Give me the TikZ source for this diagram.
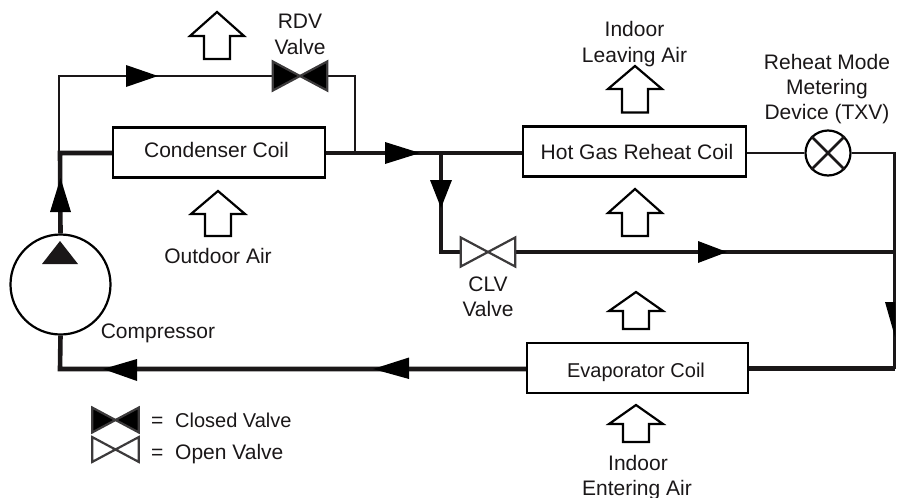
\documentclass[tikz,border=0pt]{standalone}
\usepackage{fontspec}
\setmainfont{Liberation Sans}
\definecolor{ink}{HTML}{1A1718}
\tikzset{
  thinline/.style={draw=ink,line width=2.5pt,line join=miter},
  thickline/.style={draw=ink,line width=4.6pt,line join=miter},
  midline/.style={draw=ink,line width=3.4pt,line join=miter},
  coil/.style={draw=black,line width=2.4pt,fill=white,inner sep=0pt,text=ink},
  lbl/.style={anchor=base,inner sep=0pt,text=ink,font=\fontsize{21}{21}\selectfont},
  lblnarrow/.style={lbl,font=\fontsize{20}{20}\selectfont},
  lbll/.style={lbl,anchor=base west},
  lbllnarrow/.style={lblnarrow,anchor=base west},
  valvebox/.style={inner sep=0pt,minimum width=#1,minimum height=#1*0.53},
  head/.style={fill=black},
  blockarrow/.style={draw=black,line width=2.2pt,fill=white,line join=miter},
  disc/.style={circle,draw=black,line width=2.2pt,fill=white,inner sep=0pt},
}
\newcommand{\drawvalve}[2]{\draw[draw=ink!85,line width=2.2pt,fill=#1,line join=miter]
  (#2.north west) -- (#2.south east) -- (#2.north east) -- (#2.south west) -- cycle;}
\newcommand{\airarrow}[5]{\draw[blockarrow] (#1,#2) -- (#1+#5,#3) -- (#1+13,#3) -- (#1+13,#4) -- (#1-13,#4) -- (#1-13,#3) -- (#1-#5,#3) -- cycle;}
\begin{document}
\begin{tikzpicture}[x=1pt,y=-1pt]
\useasboundingbox (0,0) rectangle (897,498);
% components
\node[coil,minimum width=212pt,minimum height=50pt] (cond) at (219,152.5) {};
\node[coil,minimum width=223pt,minimum height=50pt] (reheat) at (634.5,151.5) {};
\node[coil,minimum width=221pt,minimum height=50pt] (evap) at (637.5,368) {};
\node[disc,minimum size=100pt] (comp) at (60.5,284.5) {};
\node[disc,minimum size=45pt] (txv) at (828,153) {};
\node[valvebox=54pt] (rdv) at (300,76) {};
\node[valvebox=54pt] (clv) at (488,252) {};
\node[valvebox=46pt] (closedkey) at (115.5,420) {};
\node[valvebox=46pt] (openkey) at (115.5,449.5) {};
% junctions
\coordinate (jl) at (60,153);
\coordinate (jtl) at (59,76);
\coordinate (jtr) at (355,76);
\coordinate (jr) at (355,153);
\coordinate (jb) at (441,153);
\coordinate (jbc) at (441,252);
\coordinate (jcr) at (894.5,252);
\coordinate (jtxv) at (894.5,153);
\coordinate (jev) at (894.5,368.5);
\coordinate (jcb) at (60,369);
% thin connectors
\draw[thinline] (jl -| jtl) -- (jtl) -- (rdv.west);
\draw[thinline] (rdv.east) -- (jtr) -- (jr);
\draw[thinline] (reheat.east |- txv) -- (txv.west);
\draw[thinline] (txv.east) -- (jtxv) -- (jcr);
% thick connectors
\draw[thickline] (cond.west |- jl) -- (jl) -- (comp.north);
\draw[thickline] (cond.east |- jr) -- (reheat.west |- jr);
\draw[thickline] (jb) -- (jbc) -- (clv.west);
\draw[thickline] (clv.east) -- (jcr);
\draw[midline] (jcr) -- (jev);
\draw[thickline] (jev) -- (evap.east |- jev);
\draw[thickline] (evap.west |- jcb) -- (jcb) -- (comp.south);
% valves
\drawvalve{black}{rdv}
\drawvalve{white}{clv}
\drawvalve{black}{closedkey}
\drawvalve{white}{openkey}
% TXV cross
\draw[thinline] (txv.north west) -- (txv.south east);
\draw[thinline] (txv.north east) -- (txv.south west);
% flow arrowheads
\fill[head] (126,65) -- (158,76) -- (126,87) -- cycle;
\fill[head] (385,142) -- (420,153) -- (385,164) -- cycle;
\fill[head] (50,212) -- (60.5,178) -- (71,212) -- cycle;
\fill[head] (430,180) -- (452,180) -- (441,208) -- cycle;
\fill[head] (698,241) -- (727,252) -- (698,263) -- cycle;
\fill[head] (885,302) -- (895,302) -- (895,337) -- cycle;
\fill[head] (409,357.5) -- (373,369) -- (409,379) -- cycle;
\fill[head] (137,359) -- (103,369) -- (137,381) -- cycle;
\fill[ink] (42,264) -- (60,241) -- (78,264) -- cycle;
% air arrows
\airarrow{217}{12}{36}{59}{27}
\airarrow{218}{191}{214}{236}{27}
\airarrow{635}{66}{89}{112.5}{27}
\airarrow{635}{189}{213}{236}{27}
\airarrow{636}{292}{311}{329}{27}
\airarrow{636}{405}{424}{442}{27}
% labels
\node[lbl] (t1) at (300,28) {RDV};
\node[lbl] (t2) at (300,54) {Valve};
\node[lbl] (t3) at (216.5,157) {Condenser Coil};
\node[lbl] (t4) at (218,263) {Outdoor Air};
\node[lbl] (t5) at (158,338) {Compressor};
\node[lbl] (t6) at (637,159) {Hot Gas Reheat Coil};
\node[lbl] (t7) at (634.5,36) {Indoor};
\node[lbl] (t8) at (634.5,62) {Leaving Air};
\node[lbl] (t9) at (827,69) {Reheat Mode};
\node[lbl] (t10) at (827,94) {Metering};
\node[lbl] (t11) at (827,119) {Device (TXV)};
\node[lbl] (t12) at (488,291) {CLV};
\node[lbl] (t13) at (488,316) {Valve};
\node[lblnarrow] (t14) at (636,377) {Evaporator Coil};
\node[lbl] (t15) at (638,470) {Indoor};
\node[lbl] (t16) at (637,495) {Entering Air};
\node[lbll] (t17) at (151,427) {=};
\node[lbllnarrow] (t18) at (175,427) {Closed Valve};
\node[lbll] (t19) at (151,459) {=};
\node[lbll] (t20) at (175,459) {Open Valve};
\end{tikzpicture}
\end{document}
